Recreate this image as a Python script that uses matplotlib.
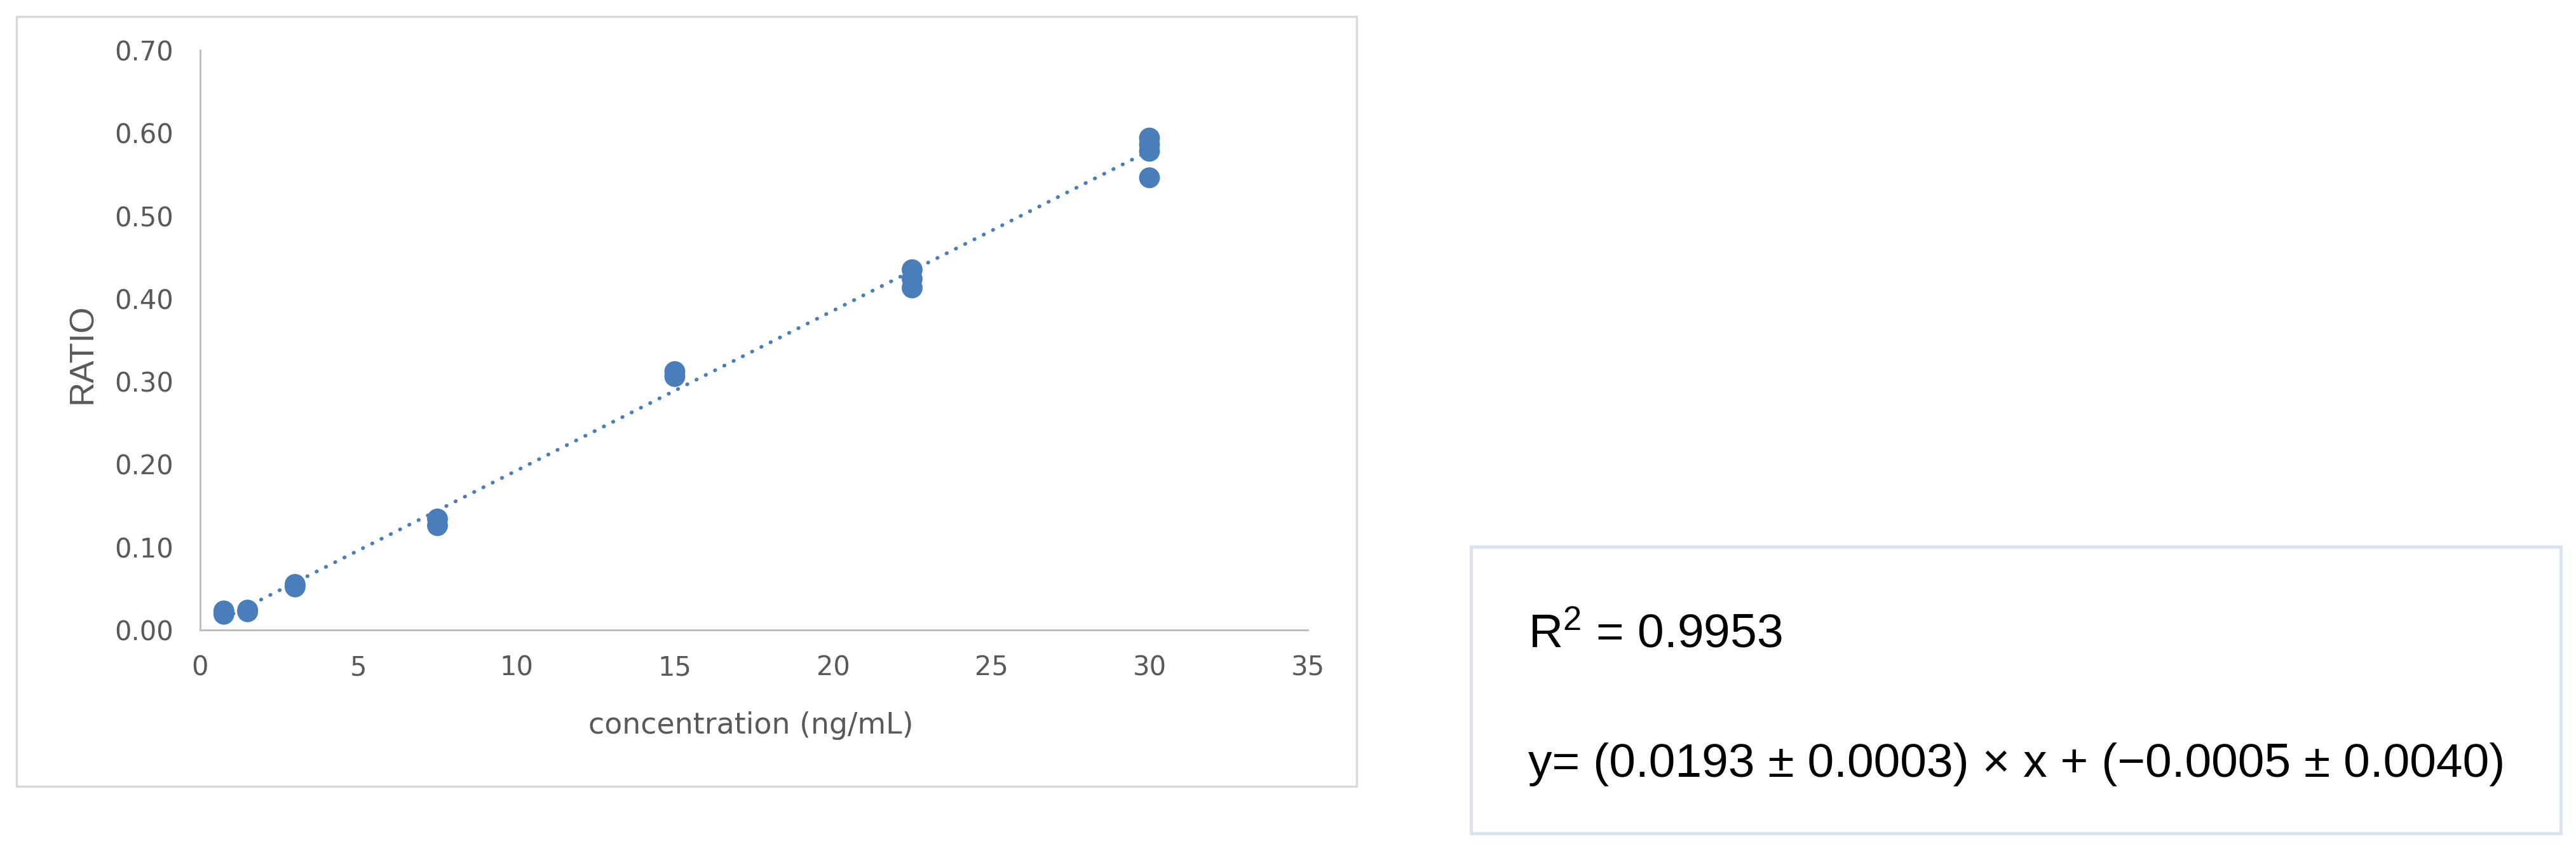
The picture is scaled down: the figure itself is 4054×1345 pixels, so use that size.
import matplotlib
matplotlib.use('Agg')
import matplotlib.pyplot as plt
from matplotlib.patches import Rectangle

plt.rcParams['font.family'] = ['Liberation Sans', 'DejaVu Sans']
plt.rcParams['mathtext.fontset'] = 'custom'
plt.rcParams['mathtext.rm'] = 'Liberation Sans'
plt.rcParams['mathtext.default'] = 'regular'

# calibration data (concentration in ng/mL, peak area ratio)
conc = [0.75, 0.75, 1.5, 1.5, 3, 3, 7.5, 7.5, 15, 15,
        22.5, 22.5, 22.5, 30, 30, 30, 30]
ratio = [0.019, 0.023, 0.022, 0.024, 0.052, 0.055, 0.134, 0.126, 0.312, 0.306,
         0.435, 0.424, 0.413, 0.594, 0.586, 0.578, 0.546]

slope = 0.0193
intercept = -0.0005
fit_x = [0.75, 30]
fit_y = [slope * v + intercept for v in fit_x]

x_ticks = [0, 5, 10, 15, 20, 25, 30, 35]
y_ticks = [0.0, 0.1, 0.2, 0.3, 0.4, 0.5, 0.6, 0.7]

r2_text = r'R$^{2}$ = 0.9953'
eq_text = 'y= (0.0193 ± 0.0003) × x + (−0.0005 ± 0.0040)'

W, H = 4054, 1345
fig = plt.figure(figsize=(W / 100, H / 100), dpi=100)

ax = fig.add_axes([315 / W, 1 - 991 / H, 1743 / W, 912 / H])
ax.plot(fit_x, fit_y, color='#4A7EBB', lw=4.2, dashes=(0.1, 2.7),
        dash_capstyle='round', zorder=2)
ax.scatter(conc, ratio, s=560, color='#4A7EBB', edgecolors='none', zorder=3)

ax.set_xlim(0, 35)
ax.set_ylim(0, 0.70)
ax.set_xticks(x_ticks)
ax.set_yticks(y_ticks)
ax.set_yticklabels([f'{v:.2f}' for v in y_ticks])
ax.tick_params(length=0, labelsize=30, colors='#595959')
ax.tick_params(axis='y', pad=30)
ax.tick_params(axis='x', pad=28)
for lab in ax.get_xticklabels() + ax.get_yticklabels():
    lab.set_family('DejaVu Sans')
for side in ['top', 'right']:
    ax.spines[side].set_visible(False)
for side in ['left', 'bottom']:
    ax.spines[side].set_color('#BFBFBF')
    ax.spines[side].set_linewidth(2.2)

ax.set_xlabel('concentration (ng/mL)', fontsize=33, color='#595959',
              family='DejaVu Sans')
ax.set_ylabel('RATIO', fontsize=38, color='#595959',
              family=['Liberation Sans Narrow', 'Liberation Sans'])
ax.xaxis.set_label_coords(0.497, -0.140)
ax.yaxis.set_label_coords(-0.092, 0.477)

# chart frame
fig.patches.append(Rectangle((26 / W, 1 - 1237 / H), (2135 - 26) / W, (1237 - 26) / H,
                             transform=fig.transFigure, fill=False,
                             edgecolor='#D9D9D9', lw=2.5))
# result box
fig.patches.append(Rectangle((2315 / W, 1 - 1311 / H), (4030 - 2315) / W, (1311 - 860) / H,
                             transform=fig.transFigure, fill=False,
                             edgecolor='#DAE3F3', lw=3.5))
fig.text(2405 / W, 1 - 1018 / H, r2_text, fontsize=54, color='black', va='baseline')
fig.text(2405 / W, 1 - 1222 / H, eq_text, fontsize=54, color='black', va='baseline')

fig.savefig('out.png', dpi=100, facecolor='white')
